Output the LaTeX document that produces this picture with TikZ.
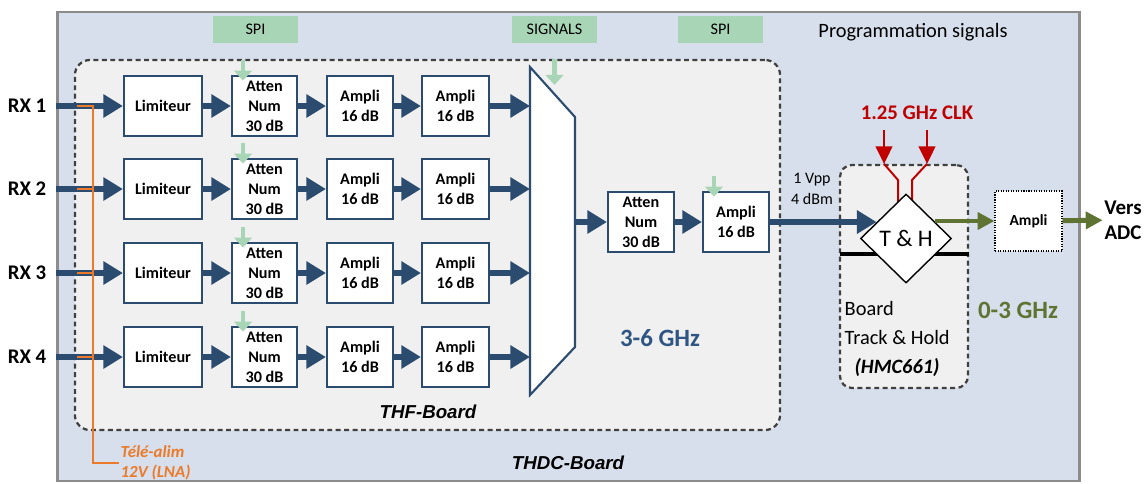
\documentclass[tikz,border=0pt]{standalone}
\usepackage{fontspec}
\setmainfont{Carlito}
\newfontfamily\boardfont{Liberation Sans}
\usepackage{xcolor}
\definecolor{thdcbg}{HTML}{D6DFEB}
\definecolor{thfbg}{HTML}{F0F0F0}
\definecolor{framegray}{HTML}{8C8C8C}
\definecolor{dashgray}{HTML}{404040}
\definecolor{sigblue}{HTML}{2B4C6F}
\definecolor{bandblue}{HTML}{2F5582}
\definecolor{spigreen}{HTML}{A8D5B5}
\definecolor{clkred}{HTML}{C00000}
\definecolor{olive}{HTML}{5F7332}
\definecolor{alim}{HTML}{EB7A2A}
\usetikzlibrary{positioning, arrows.meta, shapes.geometric}

\begin{document}
\begin{tikzpicture}[x=0.025cm, y=-0.025cm,
  blk/.style={draw=sigblue, line width=1.5pt, fill=white, minimum width=1.65cm, minimum height=1.5cm, inner sep=1pt, align=center, font=\fontsize{11.5}{14.2}\selectfont\bfseries},
  dashbox/.style={draw=dashgray, line width=1.6pt, dash pattern=on 3.5pt off 2.5pt, fill=thfbg, inner sep=0pt},
  sarrow/.style={-{Triangle[length=14pt,width=16pt]}, sigblue, line width=4.3pt},
  garrow/.style={-{Triangle[length=7pt,width=12.5pt]}, spigreen, line width=3.5pt},
  carrow/.style={-{Triangle[length=12.5pt,width=12pt]}, clkred, line width=1.4pt},
  oarrow/.style={-{Triangle[length=12pt,width=12pt]}, olive, line width=3.5pt},
  alimline/.style={alim, line width=1.4pt},
  spibox/.style={fill=spigreen, minimum width=2.125cm, minimum height=0.675cm, inner sep=0pt, font=\fontsize{11.5}{14}\selectfont},
  rxlbl/.style={font=\fontsize{14.8}{17}\selectfont\bfseries},
  bandlbl/.style={font=\fontsize{17.7}{20}\selectfont\bfseries},
  boardlbl/.style={font=\boardfont\fontsize{13.3}{16}\selectfont\bfseries\itshape}]
  \useasboundingbox (0,0) rectangle (1148,483);

  % boards
  \node[draw=framegray, line width=2pt, fill=thdcbg, minimum width=25.525cm, minimum height=11.725cm, inner sep=0pt] (thdc) at (568.5,246.5) {};
  \node[spibox] (spia) at (255.5,29.5) {SPI};
  \node[spibox] (sig) at (554.5,29.5) {SIGNALS};
  \node[spibox] (spib) at (720.5,29.5) {SPI};
  \node[font=\fontsize{14.5}{17}\selectfont] (prog) at (913,32) {Programmation signals};
  \node[dashbox, rounded corners=0.38cm, minimum width=17.625cm, minimum height=9.25cm] (thf) at (427.5,245) {};
  \node[boardlbl] (thflbl) at (428,412) {THF-Board};
  \node[boardlbl] (thdclbl) at (568,463) {THDC-Board};

  % four receive chains
  \foreach \i/\y in {1/106,2/189,3/273,4/357}{
    \node[rxlbl] (rx\i) at (27,\y) {RX \i};
    \coordinate (in\i) at (56,\y);
    \coordinate (tap\i) at (77,\y);
    \node[blk, minimum width=1.95cm] (lim\i) at (163,\y) {Limiteur};
    \node[blk, minimum width=1.625cm] (att\i) at (264.5,\y) {Atten\\Num\\30 dB};
    \node[blk] (ampa\i) at (360,\y) {Ampli\\16 dB};
    \node[blk, minimum width=1.675cm] (ampb\i) at (455.5,\y) {Ampli\\16 dB};
    \coordinate (mux\i) at (530,\y);
    \coordinate (spi\i) at (243,{\y-46});
    \draw[sarrow] (in\i) -- (lim\i);
    \draw[sarrow] (lim\i) -- (att\i);
    \draw[sarrow] (att\i) -- (ampa\i);
    \draw[sarrow] (ampa\i) -- (ampb\i);
    \draw[sarrow] (ampb\i) -- (mux\i);
    \draw[garrow, shorten >=-4pt] (spi\i) -- (spi\i |- att\i.north);
  }

  % switch
  \draw[sigblue, line width=1.5pt, fill=white] (530,67) -- (575,117) -- (575,347) -- (530,395) -- cycle;
  \coordinate (muxout) at (575,222);
  \draw[garrow] (sig.south |- thf.north) -- ++(0,26);

  % tele-alim
  \node[anchor=west, align=left, inner sep=1pt, text=alim, font=\fontsize{12}{14.2}\selectfont\bfseries\itshape] (alimtxt) at (119,463) {Télé-alim\\12V (LNA)};
  \coordinate (drop) at (93,463);
  \draw[alimline] (tap1) -- (tap1 -| drop) -- (drop) -- (alimtxt.west);
  \foreach \i in {2,3,4}
    \draw[alimline] (tap\i) -- (tap\i -| drop);

  % second stage
  \node[blk] (attc) at (641,222) {Atten\\Num\\30 dB};
  \node[blk] (ampc) at (736,222) {Ampli\\16 dB};
  \draw[sarrow] (muxout) -- (attc);
  \draw[sarrow] (attc) -- (ampc);
  \coordinate (spic) at (714,176);
  \draw[garrow, shorten >=-4pt] (spic) -- (spic |- ampc.north);
  \node[bandlbl, text=bandblue] (hf) at (660,338) {3-6 GHz};
  \node[align=center, font=\fontsize{11.4}{15}\selectfont] (lvl) at (812,189) {1 Vpp\\4 dBm};

  % track and hold
  \node[dashbox, rounded corners=0.3cm, minimum width=3.2cm, minimum height=5.575cm] (thb) at (904,276.5) {};
  \coordinate (hold) at (840,254);
  \draw[line width=3pt] (hold) -- (hold -| thb.east);
  \node[font=\fontsize{14.8}{17}\selectfont\bfseries, text=clkred] (clk) at (917,113) {1.25 GHz CLK};
  \coordinate (clka) at (884,130);
  \coordinate (clkb) at (927,130);
  \draw[carrow] (clka) -- (clka |- thb.north);
  \draw[carrow] (clkb) -- (clkb |- thb.north);
  \draw[clkred, line width=1.4pt] (clka |- thb.north) -- (898,180) -- (898,215);
  \draw[clkred, line width=1.4pt] (clkb |- thb.north) -- (912,180) -- (912,215);
  \node[diamond, draw, line width=1pt, fill=white, minimum width=2.275cm, minimum height=2.225cm, inner sep=0pt, font=\fontsize{16.9}{20}\selectfont] (thd) at (906,238.5) {T \& H};
  \draw[sarrow, shorten >=4.5pt] (ampc.east) -- (ampc.east -| thd.north west);
  \node[anchor=west, align=left, inner sep=1pt, font=\fontsize{14.5}{20.6}\selectfont] (thtxt) at (843,339) {Board\\Track \& Hold\\\hspace*{7pt}\textbf{\textit{(HMC661)}}};

  % output
  \node[draw, densely dotted, line width=0.8pt, fill=white, minimum width=1.675cm, minimum height=1.5cm, font=\fontsize{11}{13}\selectfont\bfseries] (ampo) at (1028.5,221) {Ampli};
  \node[align=center, inner sep=1pt, font=\fontsize{14.9}{17.8}\selectfont\bfseries] (vers) at (1123,220) {Vers\\ADC};
  \draw[oarrow, shorten <=4pt] (thd.north east |- ampo.west) -- (ampo.west);
  \draw[oarrow] (ampo) -- (vers);
  \node[bandlbl, text=olive] (lf) at (1018,310) {0-3 GHz};
\end{tikzpicture}
\end{document}
